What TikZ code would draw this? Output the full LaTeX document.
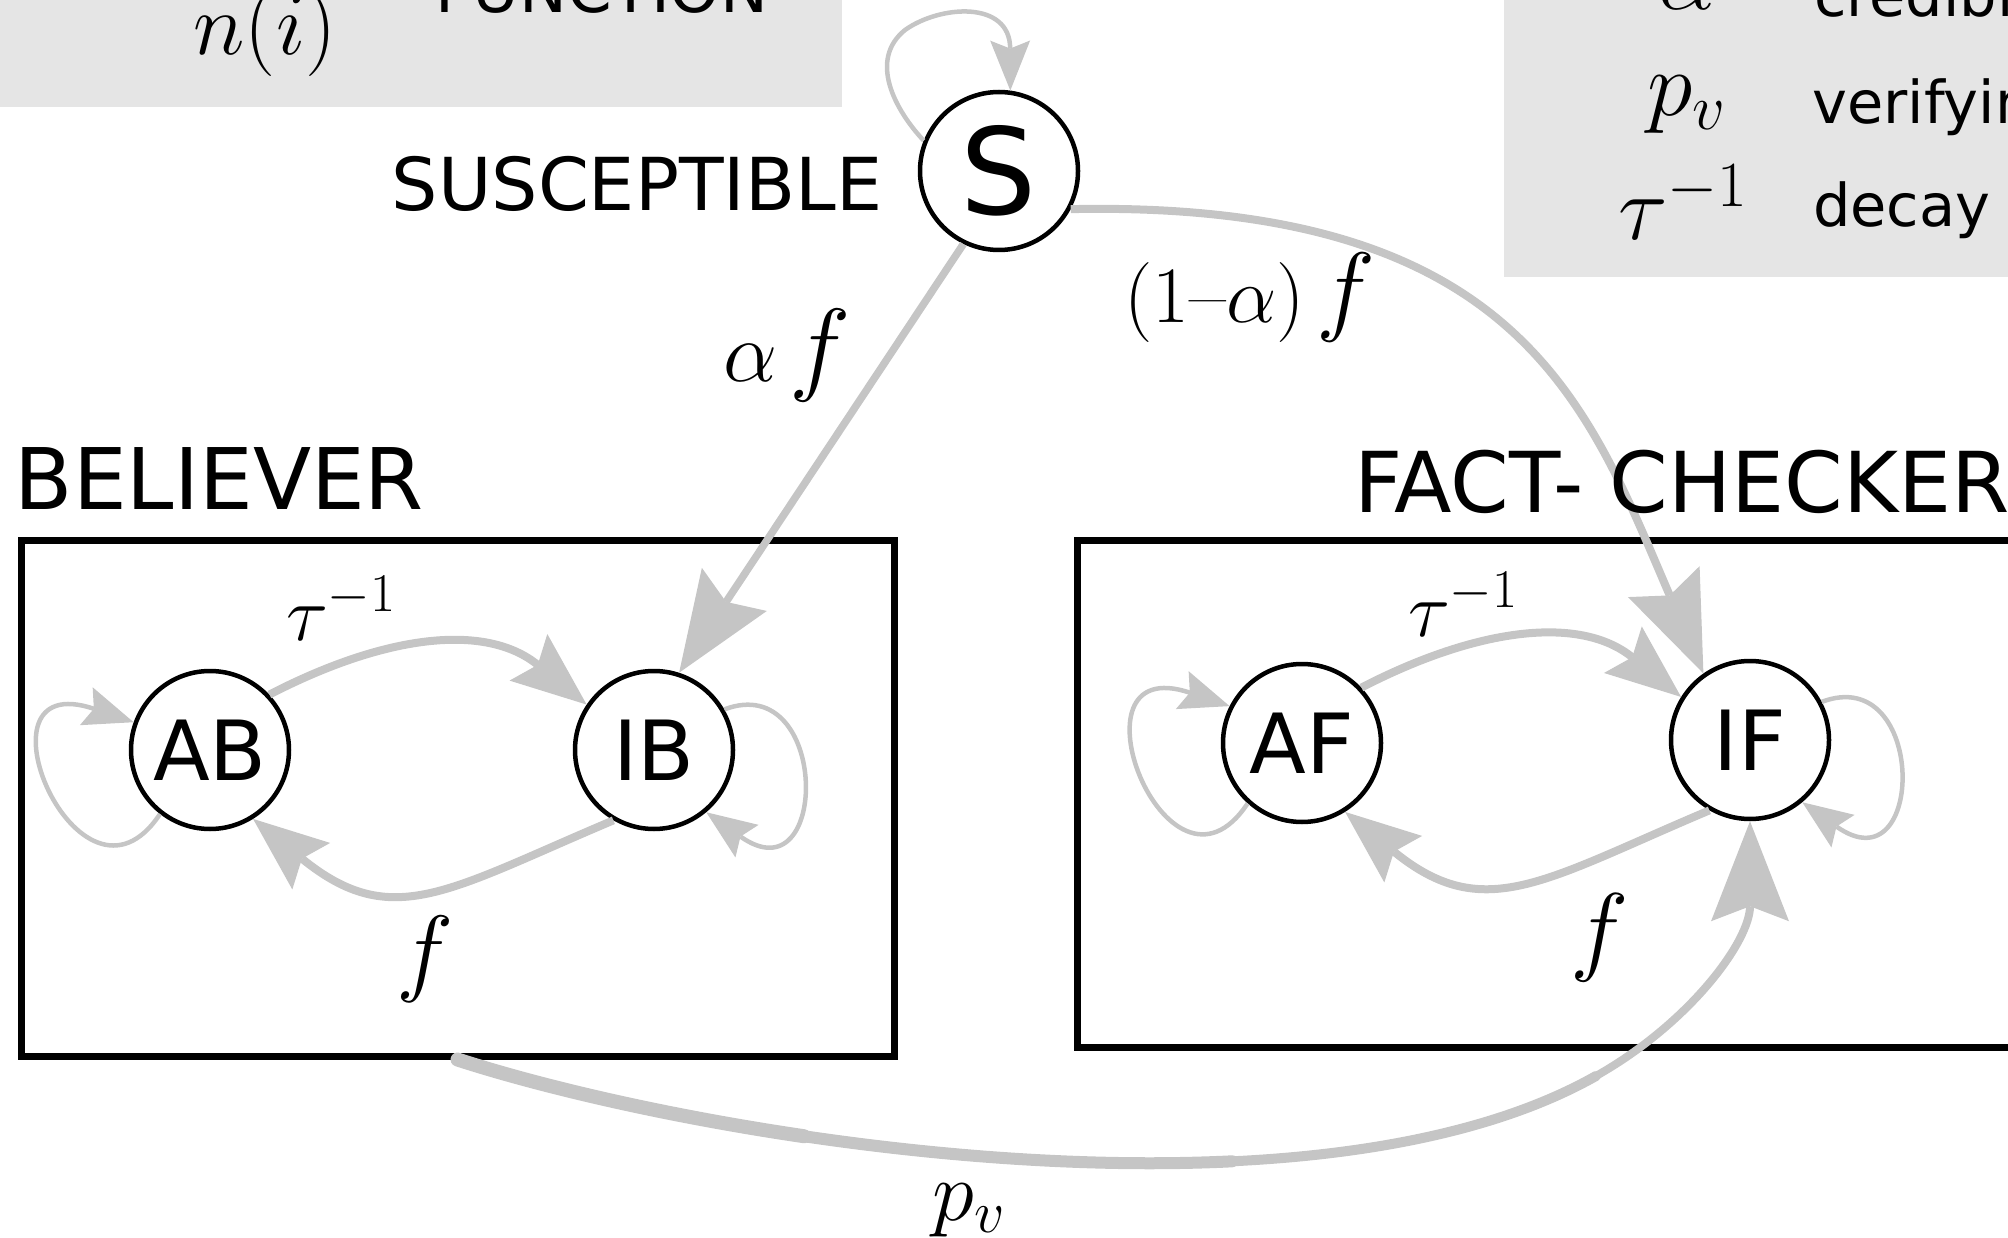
\RequirePackage{fix-cm}
\documentclass[tikz,border=0pt]{standalone}
\usepackage{fontspec}
\newfontfamily\dv{DejaVu Sans}
\usetikzlibrary{arrows.meta}
\definecolor{edgegray}{RGB}{197,197,197}
\definecolor{boxgray}{RGB}{229,229,229}
\tikzset{
  statenode/.style={circle, draw=black, line width=4.5pt, minimum size=158pt, inner sep=0pt, font=\dv\fontsize{83}{90}\selectfont},
  groupbox/.style={draw=black, line width=7pt, inner sep=0pt},
  grayedge/.style={draw=edgegray, line width=8pt},
  loopedge/.style={draw=edgegray, line width=4.5pt},
  bighead/.style={-{Stealth[length=100pt, width=78pt, inset=15pt, line width=0pt]}},
  medhead/.style={-{Stealth[length=75pt, width=60pt, inset=12pt, line width=0pt]}},
  smallhead/.style={-{Stealth[length=50pt, width=40pt, inset=8pt, line width=0pt]}},
  lbl/.style={inner sep=0pt},
  sanslbl/.style={inner sep=0pt, font=\dv\fontsize{#1}{#1}\selectfont},
  mathlbl/.style={inner sep=0pt, font=\fontsize{#1}{#1}\selectfont},
}
\begin{document}
\begin{tikzpicture}[x=1pt, y=-1pt]
\useasboundingbox (0,0) rectangle (2008,1238);
\clip (0,0) rectangle (2008,1238);
% legend boxes
\fill[boxgray] (-10,-10) rectangle (842,107);
\fill[boxgray] (1504,-10) rectangle (2030,277);
\node[mathlbl=88, anchor=base] (ni) at (265,55) {$n(i)$};
\node[sanslbl=64, anchor=base] (fun) at (602,13) {FUNCTION};
\node[mathlbl=92, anchor=base] (la) at (1687,10) {$\alpha$};
\node[sanslbl=59, anchor=base west] (lcred) at (1814,17) {credibility};
\node[mathlbl=92, anchor=base] (lp) at (1687,116) {$p_v$};
\node[sanslbl=59, anchor=base west] (lver) at (1812,124) {verifying};
\node[mathlbl=92, anchor=base] (lt) at (1683,240) {$\tau^{-1}$};
\node[sanslbl=59, anchor=base west] (ldec) at (1813,227) {decay};
% group boxes
\node[groupbox, minimum width=873pt, minimum height=516pt] (Bbox) at (457.5,798) {};
\node[groupbox, minimum width=953pt, minimum height=507pt] (Fbox) at (1553.5,793.5) {};
% states
\node[statenode, font=\dv\fontsize{120}{130}\selectfont] (S) at (999,171) {S};
\node[statenode] (AB) at (210,750) {AB};
\node[statenode] (IB) at (654,750) {IB};
\node[statenode] (AF) at (1302,743) {AF};
\node[statenode] (IF) at (1750,740) {IF};
% self loops
\draw[loopedge, smallhead] (S.158) .. controls (895,110) and (868,60) .. (905,30) .. controls (940,5) and (1010,0) .. (S.82);
\draw[loopedge, smallhead] (AB.-128) .. controls +(-80,121) and +(-169,-57) .. (AB.160);
\draw[loopedge, smallhead] (IB.30) .. controls +(106,-40) and +(124,88) .. (IB.-50);
\draw[loopedge, smallhead] (AF.-132) .. controls +(-80,121) and +(-169,-57) .. (AF.153);
\draw[loopedge, smallhead] (IF.28) .. controls +(106,-40) and +(124,88) .. (IF.-50);
% inner arcs
\draw[grayedge, medhead] (AB.43) .. controls +(116,-60) and +(-101,-82) .. (IB.146);
\draw[grayedge, medhead] (IB.-120) .. controls +(-166,70) and +(139,113) .. (AB.-58);
\draw[grayedge, medhead] (AF.43) .. controls +(116,-60) and +(-101,-82) .. (IF.148);
\draw[grayedge, medhead] (IF.-120) .. controls +(-166,70) and +(139,113) .. (AF.-58);
% from S
\draw[grayedge, line width=7.5pt, bighead] (S.-116) -- (IB.72);
\draw[grayedge, bighead] (S.-28) .. controls (1520,200) and (1588,406) .. (IF.125);
% p_v tapered
\coordinate (pv1) at (803.95,1136.21);
\coordinate (pv2) at (1232.19,1161.31);
\coordinate (pv3) at (1596.21,1075.88);
\draw[grayedge, line width=14pt, line cap=round] (Bbox.south) .. controls (543.13,1087.13) and (666.72,1115.97) .. (pv1);
\draw[grayedge, line width=12pt, line cap=round] (pv1) .. controls (941.17,1156.45) and (1092.03,1168.09) .. (pv2);
\draw[grayedge, line width=10pt, line cap=round] (pv2) .. controls (1372.34,1154.53) and (1501.80,1129.33) .. (pv3);
\draw[grayedge, line width=8pt, bighead] (pv3) .. controls (1690.63,1022.44) and (1750,940.75) .. (IF.south);
% group labels
\node[sanslbl=73, anchor=base] (lS) at (637,211) {SUSCEPTIBLE};
\node[sanslbl=85, anchor=base] (lB) at (219.5,509) {BELIEVER};
\node[sanslbl=84, anchor=base west] (lF) at (1354,512) {FACT- CHECKER};
% edge labels
\node[mathlbl=78, anchor=base] (ltB) at (341,640) {$\tau^{-1}$};
\node[mathlbl=78, anchor=base] (ltF) at (1463,636) {$\tau^{-1}$};
\node[mathlbl=97, anchor=base] (lfB) at (425,983) {$f$};
\node[mathlbl=99, anchor=base] (lfF) at (1600,962) {$f$};
\node[lbl, anchor=base] (laf) at (787,382) {\fontsize{86}{86}\selectfont$\alpha$\hspace{12pt}\fontsize{104}{104}\selectfont$f$};
\node[lbl, anchor=base] (l1af) at (1250,323) {\fontsize{80}{80}\selectfont$(1\mbox{--}\alpha)$\hspace{12pt}\fontsize{100}{100}\selectfont$f$};
\node[mathlbl=85, anchor=base] (lpv) at (969,1220) {$p_v$};
\end{tikzpicture}
\end{document}
